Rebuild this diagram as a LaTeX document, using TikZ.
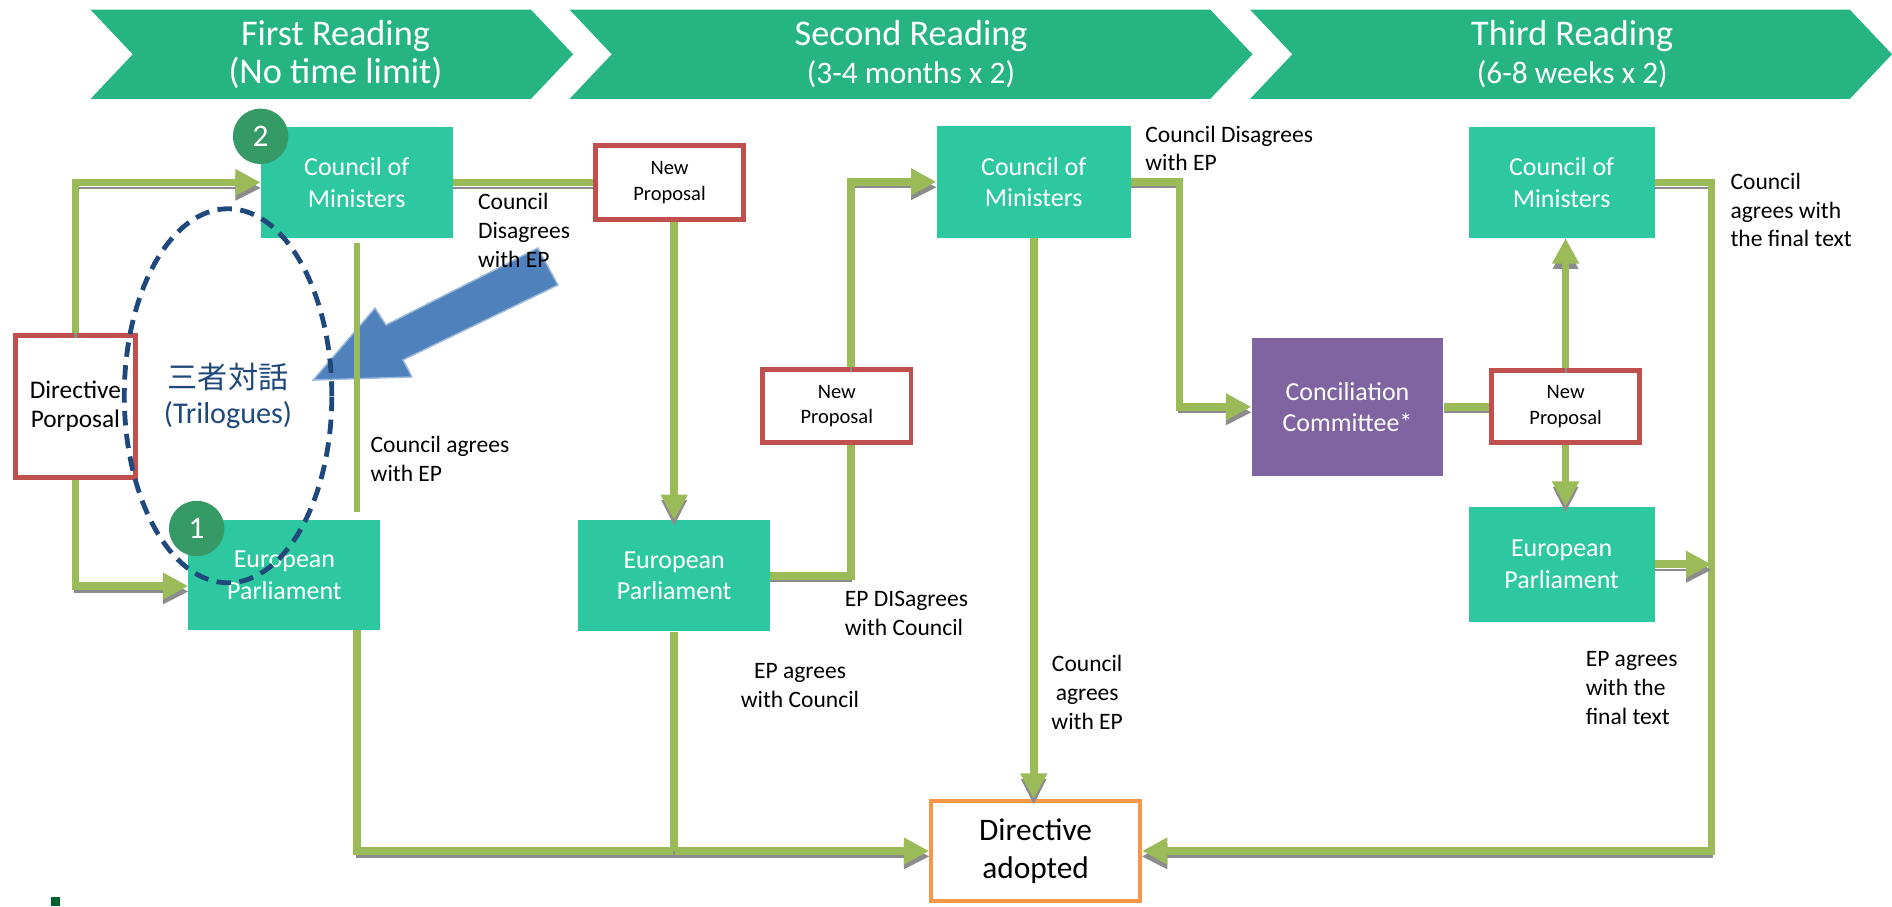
\documentclass[tikz,border=0pt]{standalone}
\usepackage{fontspec}
\setmainfont{Carlito}
\newfontfamily\jpfont{Noto Sans CJK JP}
\usetikzlibrary{arrows.meta, shapes.geometric, positioning, calc}
\definecolor{bannerGreen}{RGB}{38,180,131}
\definecolor{boxTeal}{RGB}{46,200,160}
\definecolor{circleGreen}{RGB}{54,154,102}
\definecolor{lineOlive}{RGB}{155,187,89}
\definecolor{propRed}{RGB}{192,80,77}
\definecolor{concPurple}{RGB}{128,100,162}
\definecolor{adoptOrange}{RGB}{247,150,70}
\definecolor{trilogueBlue}{RGB}{31,73,125}
\definecolor{bigArrowBlue}{RGB}{79,129,189}
\definecolor{markGreen}{RGB}{0,97,48}
\tikzstyle{shade} = [preaction={draw=black!45, line width=1.8pt, transform canvas={yshift=-4.5pt}}]
\tikzstyle{arrow} = [shade, line width=6.4pt, draw=lineOlive, -{Triangle[length=21pt, width=21pt]}]
\tikzstyle{line} = [shade, line width=6.4pt, draw=lineOlive]
\tikzstyle{basic} = [rectangle, inner sep=0pt, align=center, anchor=north west]
\tikzstyle{tealbox} = [fill=boxTeal, text=white, font=\fontsize{21.5}{26}\selectfont]
\tikzstyle{redbox} = [draw=propRed, line width=4pt, fill=white, text=black, font=\fontsize{17}{21}\selectfont]
\tikzstyle{note} = [align=left, anchor=west, inner sep=0pt, font=\fontsize{19.5}{24}\selectfont]
\tikzstyle{banner} = [fill=bannerGreen]
\tikzstyle{bannertext} = [text=white, align=center, font=\fontsize{30}{31}\selectfont]
\tikzstyle{numdot} = [circle, fill=circleGreen, text=white, minimum size=46pt, inner sep=0pt, font=\fontsize{26}{26}\selectfont]

\begin{document}
\begin{tikzpicture}[x=1pt, y=-1pt]
\useasboundingbox (0,0) rectangle (1568,751);

% reading stages
\fill [banner] (75,8) -- (440,8) -- (475,45) -- (440,82) -- (75,82) -- (110,45) -- cycle;
\fill [banner] (472,8) -- (1003,8) -- (1038,45) -- (1003,82) -- (472,82) -- (507,45) -- cycle;
\fill [banner] (1036,8) -- (1533,8) -- (1568,45) -- (1533,82) -- (1036,82) -- (1071,45) -- cycle;
\node (read1) [bannertext] at (278,45) {First Reading\\(No time limit)};
\node (read2) [bannertext] at (755,45) {Second Reading\\{\fontsize{26}{31}\selectfont(3-4 months x 2)}};
\node (read3) [bannertext] at (1303,45) {Third Reading\\{\fontsize{26}{31}\selectfont(6-8 weeks x 2)}};

% first reading
\node (dp) [basic, redbox, font=\fontsize{21}{24}\selectfont, minimum width=99pt, minimum height=118pt] at (11,276) {Directive\\Porposal};
\node (com1) [basic, tealbox, minimum width=159pt, minimum height=92pt] at (216,105) {Council of\\Ministers};
\node (ep1) [basic, tealbox, minimum width=159pt, minimum height=91pt] at (156,431) {European\\Parliament};
\node (np1) [basic, redbox, minimum width=123pt, minimum height=61pt, anchor=west, xshift=116pt] at(com1.east) {New\\Proposal};

% second reading
\node (ep2) [basic, tealbox, minimum width=159pt, minimum height=92pt] at (479,431) {European\\Parliament};
\node (np2) [basic, redbox, minimum width=123pt, minimum height=61pt] at (630,304) {New\\Proposal};
\node (com2) [basic, tealbox, minimum width=161pt, minimum height=93pt] at (776,104) {Council of\\Ministers};

% third reading
\node (conc) [basic, fill=concPurple, text=white, font=\fontsize{21.5}{26}\selectfont, minimum width=159pt, minimum height=114pt] at (1037,280) {Conciliation\\Committee*};
\node (np3) [basic, redbox, minimum width=123pt, minimum height=60pt] at (1234,305) {New\\Proposal};
\node (com3) [basic, tealbox, minimum width=154pt, minimum height=92pt] at (1217,105) {Council of\\Ministers};
\node (ep3) [basic, tealbox, minimum width=154pt, minimum height=95pt] at (1217,420) {European\\Parliament};
\node (da) [basic, draw=adoptOrange, line width=3.5pt, fill=white, font=\fontsize{26}{31}\selectfont, minimum width=173pt, minimum height=83pt] at (770,662) {Directive\\adopted};

% trilogue pointer
\draw [bigArrowBlue!55!white, line width=1.2pt, fill=bigArrowBlue] (259.5,315) -- (310.8,255.3) -- (319.9,269.3) -- (445.8,205.5) -- (462.4,236.2) -- (334,298.3) -- (341.4,312.4) -- cycle;

% notes on the flows
\node (agree1) [note] at (307,380) {Council agrees\\with EP};
\node (disagree1) [note] at (396,191) {Council\\Disagrees\\with EP};
\node (epdis) [note] at (700,508) {EP DISagrees\\with Council};
\node (epagree2) [note, align=center, anchor=center] at (663,568) {EP agrees\\with Council};
\node (agree2) [note, align=center, anchor=center] at (901,574) {Council\\agrees\\with EP};
\node (disagree2) [note] at (949,123) {Council Disagrees\\with EP};
\node (agree3) [note] at (1434,174) {Council\\agrees with\\the final text};
\node (epagree3) [note] at (1314,570) {EP agrees\\with the\\final text};

% flows
\draw [arrow] (dp.north) |- (com1.west);
\draw [arrow] (dp.south) |- ($(ep1.west)+(0,9)$);
\draw [draw=lineOlive, line width=5pt, shorten <=4pt, shorten >=7pt] (com1.south) -- (com1.south |- ep1.north);
\draw [line] (com1.east) -- (com1.east -| np1.west);
\draw [arrow] (np1.south -| ep2.north) -- (ep2.north);
\coordinate (np2foot) at ($(np2.south)+(12,0)$);
\draw [line] (ep2.east) -| (np2foot);
\draw [arrow] (np2foot |- np2.north) |- (com2.west);
\draw [arrow] (ep1.south -| com1.south) |- (da.west);
\draw [line] (ep2.south) -- (ep2.south |- da.west);
\draw [arrow] (com2.south) -- (com2.south |- da.north);
\draw [arrow] (com2.east) -- ++(40,0) |- (conc.west);
\draw [line] (conc.east) -- (conc.east -| np3.west);
\draw [arrow] (np3.north) -- (np3.north |- com3.south);
\draw [arrow] (np3.south) -- (np3.south |- ep3.north);
\coordinate (finalrail) at ($(com3.east)+(47,0)$);
\draw [arrow] (com3.east) -- (finalrail) |- (da.east);
\draw [arrow] (ep3.east) -- (ep3.east -| finalrail);

% order markers and trilogues
\node (num2) [numdot] at ($(com1.north west)+(0,8)$) {2};
\node (num1) [numdot] at ($(ep1.north west)+(7,7)$) {1};
\node (trilogue) [ellipse, draw=trilogueBlue, line width=4pt, dash pattern=on 12pt off 7pt, minimum width=172pt, minimum height=310pt, inner sep=0pt, text=trilogueBlue, align=center, font=\fontsize{25}{29}\selectfont] at (189,328) {{\jpfont 三者対話}\\(Trilogues)};

\fill [markGreen] (42,743) rectangle (50,751);
\end{tikzpicture}
\end{document}
